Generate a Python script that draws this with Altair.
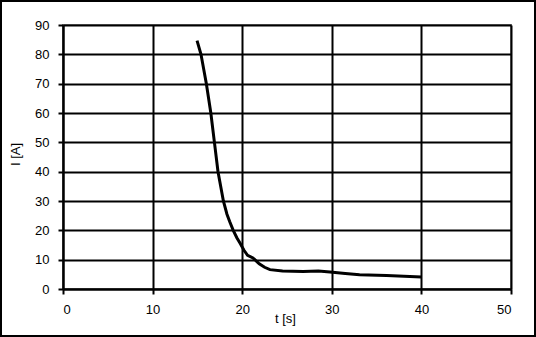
import altair as alt
import pandas as pd

t = [14.96, 15.4, 15.7, 16.0, 16.5, 16.9, 17.3, 17.9, 18.3, 18.6, 19.0, 19.4, 19.75, 20.2, 20.6, 21.2, 21.9, 22.5, 23.1, 24.5, 26.8, 28.5, 29.8, 31.5, 33.1, 36.1, 40.0]
current = [84.7, 80, 75, 70, 60, 50, 40, 30, 25.5, 23, 20, 17.5, 15.7, 13.2, 11.5, 10.6, 8.6, 7.4, 6.6, 6.1, 6.0, 6.1, 5.8, 5.3, 4.9, 4.6, 4.1]

df = pd.DataFrame({"t": t, "I": current})

W, H = 448, 264

line = alt.Chart(df).mark_line(color="black", strokeWidth=3, interpolate="linear").encode(
    x=alt.X("t:Q", scale=alt.Scale(domain=[0, 50], nice=False),
            axis=alt.Axis(title="t [s]", values=[0, 10, 20, 30, 40, 50], titleY=23,
                          titleX=W / 2 - 2,
                          titleBaseline="top", titleFontWeight="normal", titleFontSize=13,
                          titleFont="Liberation Sans", titleColor="black")),
    y=alt.Y("I:Q", scale=alt.Scale(domain=[0, 90], nice=False),
            axis=alt.Axis(title="I [A]", values=list(range(0, 100, 10)), titleX=-48,
                          titleY=H / 2 - 3, titleBaseline="middle", titleFontWeight="normal",
                          titleFontSize=13, titleFont="Liberation Sans", titleColor="black")),
)

border = alt.Chart(pd.DataFrame({"a": [0]})).mark_rect(
    fill=None, stroke="black", strokeWidth=2, clip=False
).encode(
    x=alt.value(-62), x2=alt.value(W + 24), y=alt.value(-24), y2=alt.value(H + 47)
)

chart = alt.layer(line, border).properties(
    width=W, height=H,
    autosize=alt.AutoSizeParams(type="none"),
    padding={"left": 63, "top": 25, "right": 25, "bottom": 48},
    background="white",
).configure_view(
    stroke="#808080", strokeWidth=2
).configure_axis(
    grid=True, gridColor="black", gridWidth=2, gridOpacity=1,
    domainColor="black", domainWidth=2,
    tickColor="black", tickWidth=2, tickSize=5,
    labelFont="Liberation Sans", labelFontSize=13, labelColor="black",
    labelPadding=4,
).configure_axisY(labelPadding=9).configure_axisX(labelPadding=9)

chart.save("out.html", embed_options={"renderer": "svg", "actions": False})
